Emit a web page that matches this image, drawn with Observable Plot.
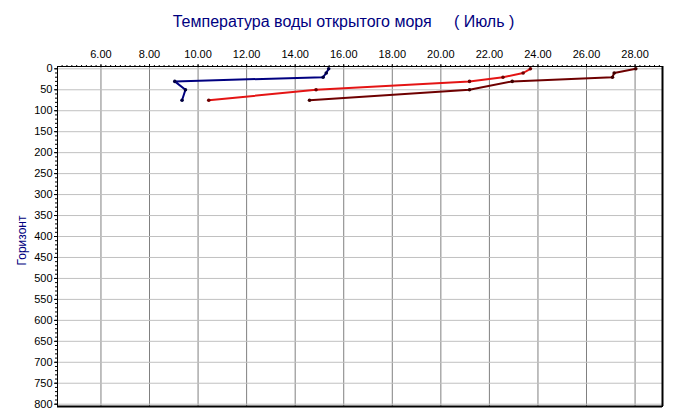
<!DOCTYPE html>
<html>
<head>
<meta charset="utf-8">
<script src="https://cdn.jsdelivr.net/npm/d3@7"></script>
<script src="https://cdn.jsdelivr.net/npm/@observablehq/plot@0.6"></script>
<style>
  body { margin: 0; background: #fff; width: 675px; height: 419px; overflow: hidden; }
  #title { height: 40px; width: 675px; font-family: "Liberation Sans", Arial, sans-serif; font-size: 16px;
           color: #000080; white-space: pre; text-align: center; line-height: 44px; box-sizing: border-box; padding-left: 12px; }
  svg { display: block; }
</style>
</head>
<body>
<div id="title">Температура воды открытого моря     ( Июль )</div>
<div id="chart"></div>
<script>
const depths = [0, 10, 20, 30, 50, 75];
const tempBlue = [15.38, 15.28, 15.15, 9.04, 9.48, 9.34];
const tempRed = [23.69, 23.39, 22.56, 21.18, 14.86, 10.44];
const tempDark = [28.03, 27.14, 27.07, 22.94, 21.18, 14.59];
const seriesNames = ["blue", "red", "dark"];
const xTicks = d3.range(6, 28.01, 2);
const yTicks = d3.range(0, 801, 50);
const xMinor = d3.range(4.4, 29.1, 0.2);
const yMinor = d3.range(0, 801, 10);

const lineColors = {blue: "#000080", red: "#e41414", dark: "#6e0000"};
const dotColors = {blue: "#000040", red: "#700000", dark: "#400000"};

const data = [];
[tempBlue, tempRed, tempDark].forEach((arr, i) => {
  arr.forEach((t, j) => data.push({series: seriesNames[i], temp: t, depth: depths[j]}));
});

const font = "Liberation Sans, Arial, sans-serif";
const chart = Plot.plot({
  width: 675,
  height: 379,
  marginTop: 26,
  marginBottom: 13,
  marginLeft: 57,
  marginRight: 13,
  style: {fontFamily: font, fontSize: "11px", background: "#fff", color: "#000"},
  x: {domain: [4.21, 29.13]},
  y: {domain: [-5.5, 805.5], reverse: true},
  marks: [
    Plot.gridX(xTicks, {stroke: "#808080", strokeOpacity: 1}),
    Plot.gridY(yTicks, {stroke: "#c0c0c0", strokeOpacity: 1}),
    Plot.axisX(xMinor, {anchor: "top", tickSize: 2, tickFormat: () => "", label: null}),
    Plot.axisX(xTicks, {anchor: "top", tickSize: 3, tickPadding: 6, tickFormat: d3.format(".2f"), label: null, fontSize: 11}),
    Plot.axisY(yMinor, {anchor: "left", tickSize: 2, tickFormat: () => "", label: null}),
    Plot.axisY(yTicks, {anchor: "left", tickSize: 3, tickPadding: 2, label: null, fontSize: 11}),
    Plot.text(["Горизонт"], {frameAnchor: "left", dx: -35, dy: 4, rotate: -90, textAnchor: "middle", fill: "#000080", fontSize: 12}),
    Plot.line(data, {x: "temp", y: "depth", z: "series", stroke: d => lineColors[d.series], strokeWidth: 2}),
    Plot.dot(data, {x: "temp", y: "depth", r: 1.8, fill: d => dotColors[d.series], stroke: "none"}),
    Plot.frame({stroke: "#000", strokeWidth: 1}),
    Plot.ruleX([29.13], {stroke: "#000", strokeWidth: 2}),
    Plot.ruleY([805.5], {stroke: "#000", strokeWidth: 2})
  ]
});
document.getElementById("chart").appendChild(chart);
</script>
</body>
</html>
